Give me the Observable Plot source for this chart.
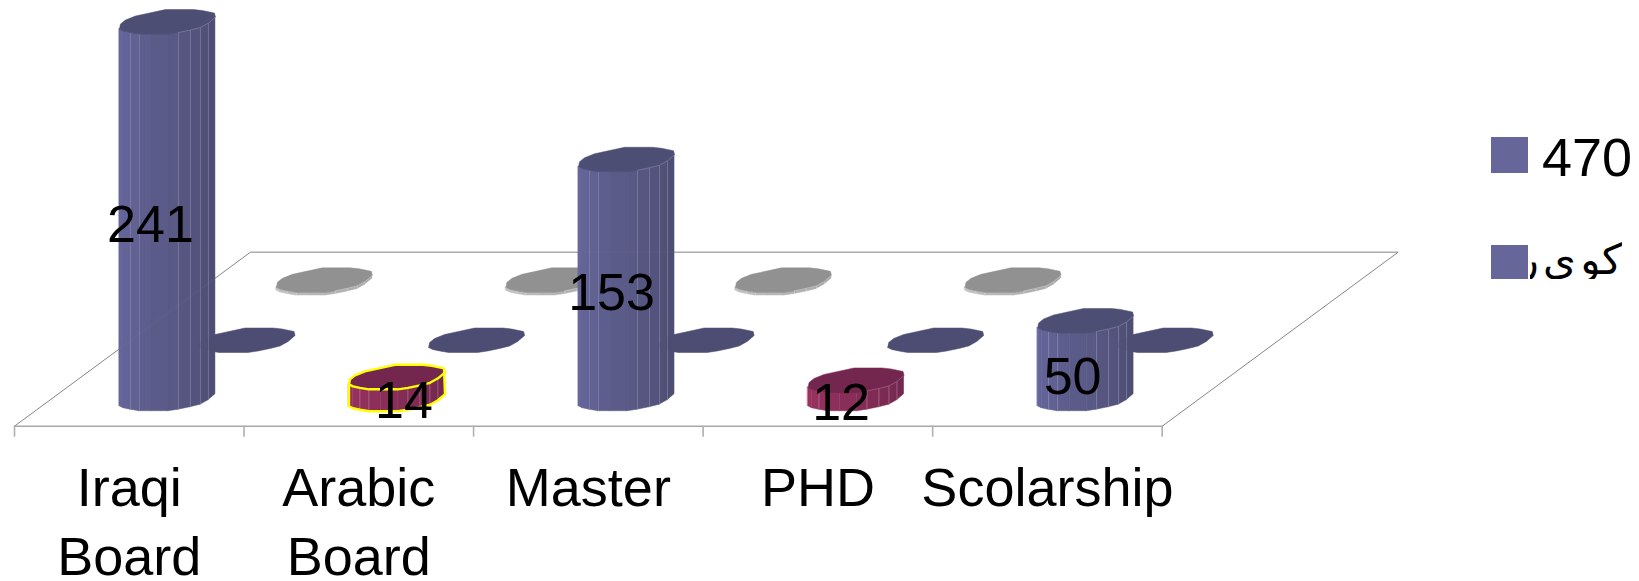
<!DOCTYPE html>
<html>
<head>
<meta charset="utf-8">
<script src="https://cdn.jsdelivr.net/npm/d3@7"></script>
<script src="https://cdn.jsdelivr.net/npm/@observablehq/plot@0.6"></script>
<style>
html,body{margin:0;padding:0;background:#fff}
#wrap{position:relative;width:1639px;height:581px;overflow:hidden;font-family:"Liberation Sans","DejaVu Sans",sans-serif;color:#000}
#wrap svg{display:block;position:absolute;left:0;top:0}
.sw{position:absolute;background:#66669a;left:1491px;width:37px}
.lt{position:absolute;left:1542px;width:97px;overflow:hidden;font-size:54px;white-space:nowrap}
</style>
</head>
<body>
<div id="wrap"></div>
<script>
// ---- data ----
const categories = ["Iraqi\nBoard", "Arabic\nBoard", "Master", "PHD", "Scolarship"];
const frontValues = [241, 14, 153, 12, 50];
const middleValues = [0, 0, 0, 0, 0];
const backValues = [2, 2, 2, 2];
const legendFirst = "470";
const legendSecond = "كو ى ر";

// ---- chart geometry ----
const W = 1639, H = 581;
const pxPerCat = 229.54, pxPerVal = 1.565;
const depthX = 1.028, depthY = 111.2;           // floor depth expressed in category / value units
const rowDepth = {front: 0.155, middle: 0.4925, back: 0.82};
const labelShift = [-17, 7, -15, -15, -13];     // px, label offset from the bar centre
const labelDy = [15, 13, 14, 14, 17];           // px, label offset below the bar's middle
const frontArc = [[-48,7],[-44,9],[-37,10.5],[-28,12],[-16,12],[1,12],[11,10.5],[23,8],[33,5.5],[41,1],[48,-5]];
const backArc = [[47,-9],[35,-11.5],[26,-12.5],[-2,-12.5],[-32,-6],[-42,-2],[-47,2]];
const lineFacets = [2,3,6,7,8,9];

const palette = {
  blue:   {left:"#66669b", right:"#4e4e74", top:"#4d4e73", line:"#9a9ac0"},
  maroon: {left:"#99325f", right:"#72284f", top:"#73274f", line:"#c080a0"},
  grey:   {left:"#c4c4c4", right:"#a6a6a6", top:"#919191", line:"#e4e4e4"}
};

const px = (cat, depth, ox) => cat + depth * depthX + ox / pxPerCat;
const py = (value, depth, oy) => value + depth * depthY - oy / pxPerVal;

function ringPoints(i, value, depth) {
  const cat = i + 0.507;
  return [...frontArc, ...backArc, frontArc[0]].map(([ox, oy]) => ({x: px(cat, depth, ox), y: py(value, depth, oy)}));
}

function barMarks(i, value, depth, colors, highlight) {
  const cat = i + 0.507;
  const marks = [];
  const topY = ([ox, oy]) => py(value, depth, oy);
  const baseY = ([ox, oy]) => py(0, depth, oy);
  const X = ([ox]) => px(cat, depth, ox);
  if (value > 0) {
    const mix = d3.interpolateRgb(colors.left, colors.right);
    const strips = [];
    for (let j = 0; j < frontArc.length - 1; j++) {
      const c = mix(j / (frontArc.length - 2));
      for (const p of [frontArc[j], frontArc[j + 1]])
        strips.push({j, c, x: X(p), y1: baseY(p), y2: topY(p)});
    }
    marks.push(Plot.area(strips, {x1: "x", y1: "y1", y2: "y2", z: "j", fill: "c", stroke: "c", strokeWidth: 0.5}));
    const facets = lineFacets.map((k) => ({x: X(frontArc[k]), y1: baseY(frontArc[k]), y2: topY(frontArc[k])}));
    marks.push(Plot.link(facets, {x1: "x", x2: "x", y1: "y1", y2: "y2", stroke: colors.line, strokeWidth: 0.8, strokeOpacity: 0.6}));
  }
  marks.push(Plot.line(ringPoints(i, value, depth), {x: "x", y: "y", fill: colors.top, stroke: colors.top, strokeWidth: 0.5}));
  if (value > 0) {
    const rim = frontArc.slice(6).map((p) => ({x: X(p), y: topY(p)}));
    marks.push(Plot.line(rim, {x: "x", y: "y", stroke: colors.line, strokeWidth: 0.8, strokeOpacity: 0.6}));
  }
  if (highlight) {
    const outline = [...frontArc.map((p) => ({x: X(p), y: baseY(p)})),
      ...[...backArc, frontArc[0]].map((p) => ({x: X(p), y: topY(p)})), {x: X(frontArc[0]), y: baseY(frontArc[0])}];
    marks.push(Plot.line(outline, {x: "x", y: "y", stroke: "#ffff00", strokeWidth: 2.4}));
    const rimAll = frontArc.map((p) => ({x: X(p), y: topY(p)}));
    marks.push(Plot.line(rimAll, {x: "x", y: "y", stroke: "#ffff00", strokeWidth: 2.4}));
  }
  return marks;
}

const c0 = {x: 0, y: 0}, c1 = {x: 5, y: 0}, c2 = {x: 5 + depthX, y: depthY}, c3 = {x: depthX, y: depthY};

const frontColors = [palette.blue, palette.maroon, palette.blue, palette.maroon, palette.blue];

const plot = Plot.plot({
  width: W, height: H,
  marginLeft: 14, marginRight: W - 14 - 5 * pxPerCat, marginTop: 0, marginBottom: H - 425.7,
  x: {domain: [0, 5], axis: null, label: null},
  y: {domain: [0, 272], axis: null, label: null},
  color: {type: "identity"},
  style: {background: "transparent", fontFamily: '"Liberation Sans", sans-serif', color: "#000"},
  marks: [
    // floor
    Plot.line([c0, c3, c2, c1], {x: "x", y: "y", stroke: "#8c8c8c", strokeWidth: 1}),
    Plot.line([c0, c1], {x: "x", y: "y", stroke: "#a8a8a8", strokeWidth: 1.6}),
    Plot.axisX([0, 1, 2, 3, 4, 5], {tickSize: 11, tickFormat: null, text: null, label: null, stroke: "#b0b0b0", strokeWidth: 1.6}),
    Plot.axisX(categories.map((_, i) => i + 0.5), {
      tickSize: 0, tickPadding: 31, fontSize: 54, lineHeight: 1.278, fill: "#000", label: null,
      tickFormat: (d) => categories[Math.floor(d)]
    }),
    // rows, painted back to front
    ...backValues.flatMap((v, i) => barMarks(i, v, rowDepth.back, palette.grey)),
    ...middleValues.flatMap((v, i) => barMarks(i, v, rowDepth.middle, palette.blue)),
    ...frontValues.flatMap((v, i) => barMarks(i, v, rowDepth.front, frontColors[i], i === 1)),
    // the bars are slightly see-through
    Plot.line([c0, c3, c2, c1], {x: "x", y: "y", stroke: "#8c8c8c", strokeWidth: 1, strokeOpacity: 0.15}),
    ...middleValues.map((v, i) => Plot.line(ringPoints(i, v, rowDepth.middle), {x: "x", y: "y", fill: palette.blue.top, fillOpacity: 0.18, stroke: "none"})),
    // value labels
    ...frontValues.map((v, i) => Plot.text([{v, x: i + 0.507 + rowDepth.front * depthX + labelShift[i] / pxPerCat, y: v / 2 + rowDepth.front * depthY}], {
      x: "x", y: "y", text: (d) => String(d.v), dy: labelDy[i], fontSize: 52, fill: "#000"
    }))
  ]
});

const wrap = document.getElementById("wrap");
wrap.appendChild(plot);

function legendRow(text, swTop, swH, txtTop, txtH, lh, rtl) {
  const s = document.createElement("div");
  s.className = "sw"; s.style.top = swTop + "px"; s.style.height = swH + "px";
  const t = document.createElement("div");
  t.className = "lt"; t.textContent = text;
  t.style.top = txtTop + "px"; t.style.height = txtH + "px"; t.style.lineHeight = lh + "px";
  if (rtl) { t.dir = "rtl"; t.style.left = "1530px"; t.style.width = "92px"; t.style.fontFamily = '"DejaVu Sans",sans-serif'; t.style.fontSize = "42px"; t.style.wordSpacing = "-9px"; }
  wrap.append(s, t);
}
legendRow(legendFirst, 137, 36, 127, 60, 60, false);
legendRow(legendSecond, 245, 34, 232, 47, 56, true);
</script>
</body>
</html>
